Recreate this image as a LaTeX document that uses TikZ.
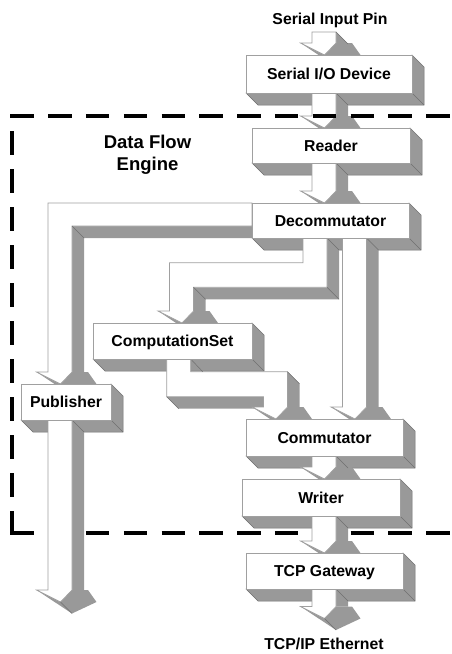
\documentclass[tikz,border=0pt]{standalone}
\usepackage{fontspec}
\setmainfont{Liberation Sans}
\usetikzlibrary{calc}
\pgfdeclarelayer{bg}\pgfdeclarelayer{ext}\pgfdeclarelayer{arr}\pgfdeclarelayer{fg}
\pgfsetlayers{bg,ext,arr,main,fg}
\definecolor{face}{RGB}{153,153,153}
\definecolor{edge}{RGB}{112,112,112}
\definecolor{outl}{RGB}{160,160,160}
\tikzset{
  box/.style={draw=outl, line width=0.7pt, fill=white, inner sep=0pt, outer sep=0pt,
    font=\fontsize{15.8}{18}\selectfont\bfseries, text height=11.3pt, text depth=0pt},
  lbl/.style={font=\fontsize{15.8}{18}\selectfont\bfseries, inner sep=0pt},
  ttl/.style={font=\fontsize{18.5}{22}\selectfont\bfseries, inner sep=0pt},
  frontface/.style={fill=white, draw=outl, line width=0.7pt},
  crease/.style={draw=edge, line width=0.5pt},
  frame/.style={line width=3.3pt, draw=black},
}
% straight 3D down arrow: #1 shaft top centre, #2 tip
\newcommand\arrowdown[2]{%
  \coordinate (t) at (#1); \coordinate (p) at (#2);
  \fill[face] ($(t)+(12,0)$) -- ($(t)+(24,12)$) -- ($(p)+(24,-12)$) -- ($(p)+(12,-12)$) -- cycle;
  \fill[face] ($(p)+(-23.5,-12)$) -- ($(p)+(28,-12)$) -- ($(p)+(36.5,0)$) -- ($(p)+(12,11.5)$) -- cycle;
  \draw[frontface] ($(t)+(-12,0)$) -- ($(p)+(-12,-12)$) -- ($(p)+(-23.5,-12)$) -- ($(p)+(0.5,0)$)
     -- ($(p)+(12,-12)$) -- ($(t)+(12,0)$) -- cycle;
  \draw[crease] ($(t)+(12,0)$) -- ($(t)+(24,12)$) ($(p)+(0.5,0)$) -- ($(p)+(12,11.5)$);
}
\begin{document}
\begin{tikzpicture}[x=1pt,y=-1pt]
\useasboundingbox (0,0) rectangle (452,654);

% boxes (front faces)
\node[box, minimum width=166pt, minimum height=38pt] (sio)  at (329,74)    {Serial I/O Device};
\node[box, minimum width=158pt, minimum height=35pt] (rdr)  at (331,145.5) {Reader};
\node[box, minimum width=157pt, minimum height=35pt] (dec)  at (330.5,220.5) {Decommutator};
\node[box, minimum width=159pt, minimum height=36pt] (cset) at (172.5,341) {ComputationSet};
\node[box, minimum width=90pt,  minimum height=36pt] (pub)  at (66,402)    {Publisher};
\node[box, minimum width=157pt, minimum height=37pt] (com)  at (324.5,437.5) {Commutator};
\node[box, minimum width=158pt, minimum height=37pt] (wri)  at (321,497.5) {Writer};
\node[box, minimum width=157pt, minimum height=36pt] (tcp)  at (324.5,571) {TCP Gateway};

% free labels
\node[lbl, anchor=base] (inp) at (330,24.5) {Serial Input Pin};
\node[lbl, anchor=base] (eth) at (324,649.5) {TCP/IP Ethernet};
\node[ttl, anchor=base] (dfe1) at (147.5,148.3) {Data Flow};
\node[ttl, anchor=base] (dfe2) at (147.5,170) {Engine};

\coordinate (col) at (324,0);
\coordinate (colD) at (354.5,0);
\coordinate (colP) at (60,0);

% box extrusions
\begin{pgfonlayer}{ext}
\foreach \n in {sio,rdr,dec,cset,pub,com,wri,tcp}{
  \filldraw[fill=face, draw=edge, line width=0.5pt] (\n.north east) -- ($(\n.north east)+(12,12)$)
    -- ($(\n.south east)+(12,12)$) -- ($(\n.south west)+(12,12)$) -- (\n.south west) -- (\n.south east) -- cycle;
  \draw[crease] (\n.south east) -- ++(12,12);
}
\end{pgfonlayer}

% arrows
\begin{pgfonlayer}{arr}
\arrowdown{$(inp.south -| col)+(0,4)$}{sio.north -| col}
\arrowdown{sio.south -| col}{rdr.north -| col}
\arrowdown{rdr.south -| col}{dec.north -| col}
\arrowdown{dec.south -| colD}{com.north -| colD}
\arrowdown{pub.south -| colP}{$(pub.south -| colP)+(0,182)$}
\arrowdown{com.south -| col}{wri.north -| col}
\arrowdown{wri.south -| col}{tcp.north -| col}
\arrowdown{tcp.south -| col}{$(tcp.south -| col)+(0,29.5)$}

% Decommutator -> Publisher
\fill[face] (72,226) -- (252,226) -- (264,238) -- (84,238) -- (84,372) -- (72,372) -- cycle;
\fill[face] (36.5,372) -- (88,372) -- (96.5,384) -- (72,395.5) -- cycle;
\draw[frontface] (252,203) -- (48,203) -- (48,372) -- (36.5,372) -- (60.5,384) -- (72,372) -- (72,226) -- (252,226) -- cycle;
\draw[crease] (72,226) -- (84,238) (60.5,384) -- (72,395.5);

% Decommutator -> ComputationSet
\fill[face] (327,238) -- (339,250) -- (339,299.3) -- (205.5,299.3) -- (205.5,311) -- (193.5,311) -- (193.5,287.3) -- (327,287.3) -- cycle;
\fill[face] (158,311) -- (209.5,311) -- (218,323) -- (193.5,334.5) -- cycle;
\draw[frontface] (303,238) -- (303,262.7) -- (169.5,262.7) -- (169.5,311) -- (158,311) -- (182,323) -- (193.5,311)
  -- (193.5,287.3) -- (327,287.3) -- (327,238) -- cycle;
\draw[crease] (327,238) -- (339,250) (327,287.3) -- (339,299.3) (193.5,287.3) -- (205.5,299.3) (182,323) -- (193.5,334.5);

% ComputationSet -> Commutator
\fill[face] (166.7,396.7) -- (263.5,396.7) -- (275.5,408.7) -- (178.7,408.7) -- cycle;
\fill[face] (287.5,371.7) -- (299.5,383.7) -- (299.5,407) -- (287.5,407) -- cycle;
\fill[face] (252,407) -- (303.5,407) -- (312,419) -- (287.5,430.5) -- cycle;
\draw[frontface] (166.7,359) -- (166.7,396.7) -- (263.5,396.7) -- (263.5,407) -- (252,407) -- (276,419) -- (287.5,407)
  -- (287.5,371.7) -- (190.7,371.7) -- (190.7,359) -- cycle;
\draw[crease] (190.7,359) -- (202.7,371.7) (166.7,396.7) -- (178.7,408.7) (287.5,371.7) -- (299.5,383.7) (276,419) -- (287.5,430.5);
\end{pgfonlayer}

% dashed engine boundary
\begin{pgfonlayer}{bg}
\draw[frame, dash pattern=on 23.5pt off 14.5pt] (12,534.65) -- (12,116);
\draw[frame, dash pattern=on 23.5pt off 14.3pt] (10.35,533) -- (452,533);
\end{pgfonlayer}
\begin{pgfonlayer}{fg}
\draw[frame, dash pattern=on 23.5pt off 14.3pt] (10.35,116) -- (452,116);
\end{pgfonlayer}
\end{tikzpicture}
\end{document}
